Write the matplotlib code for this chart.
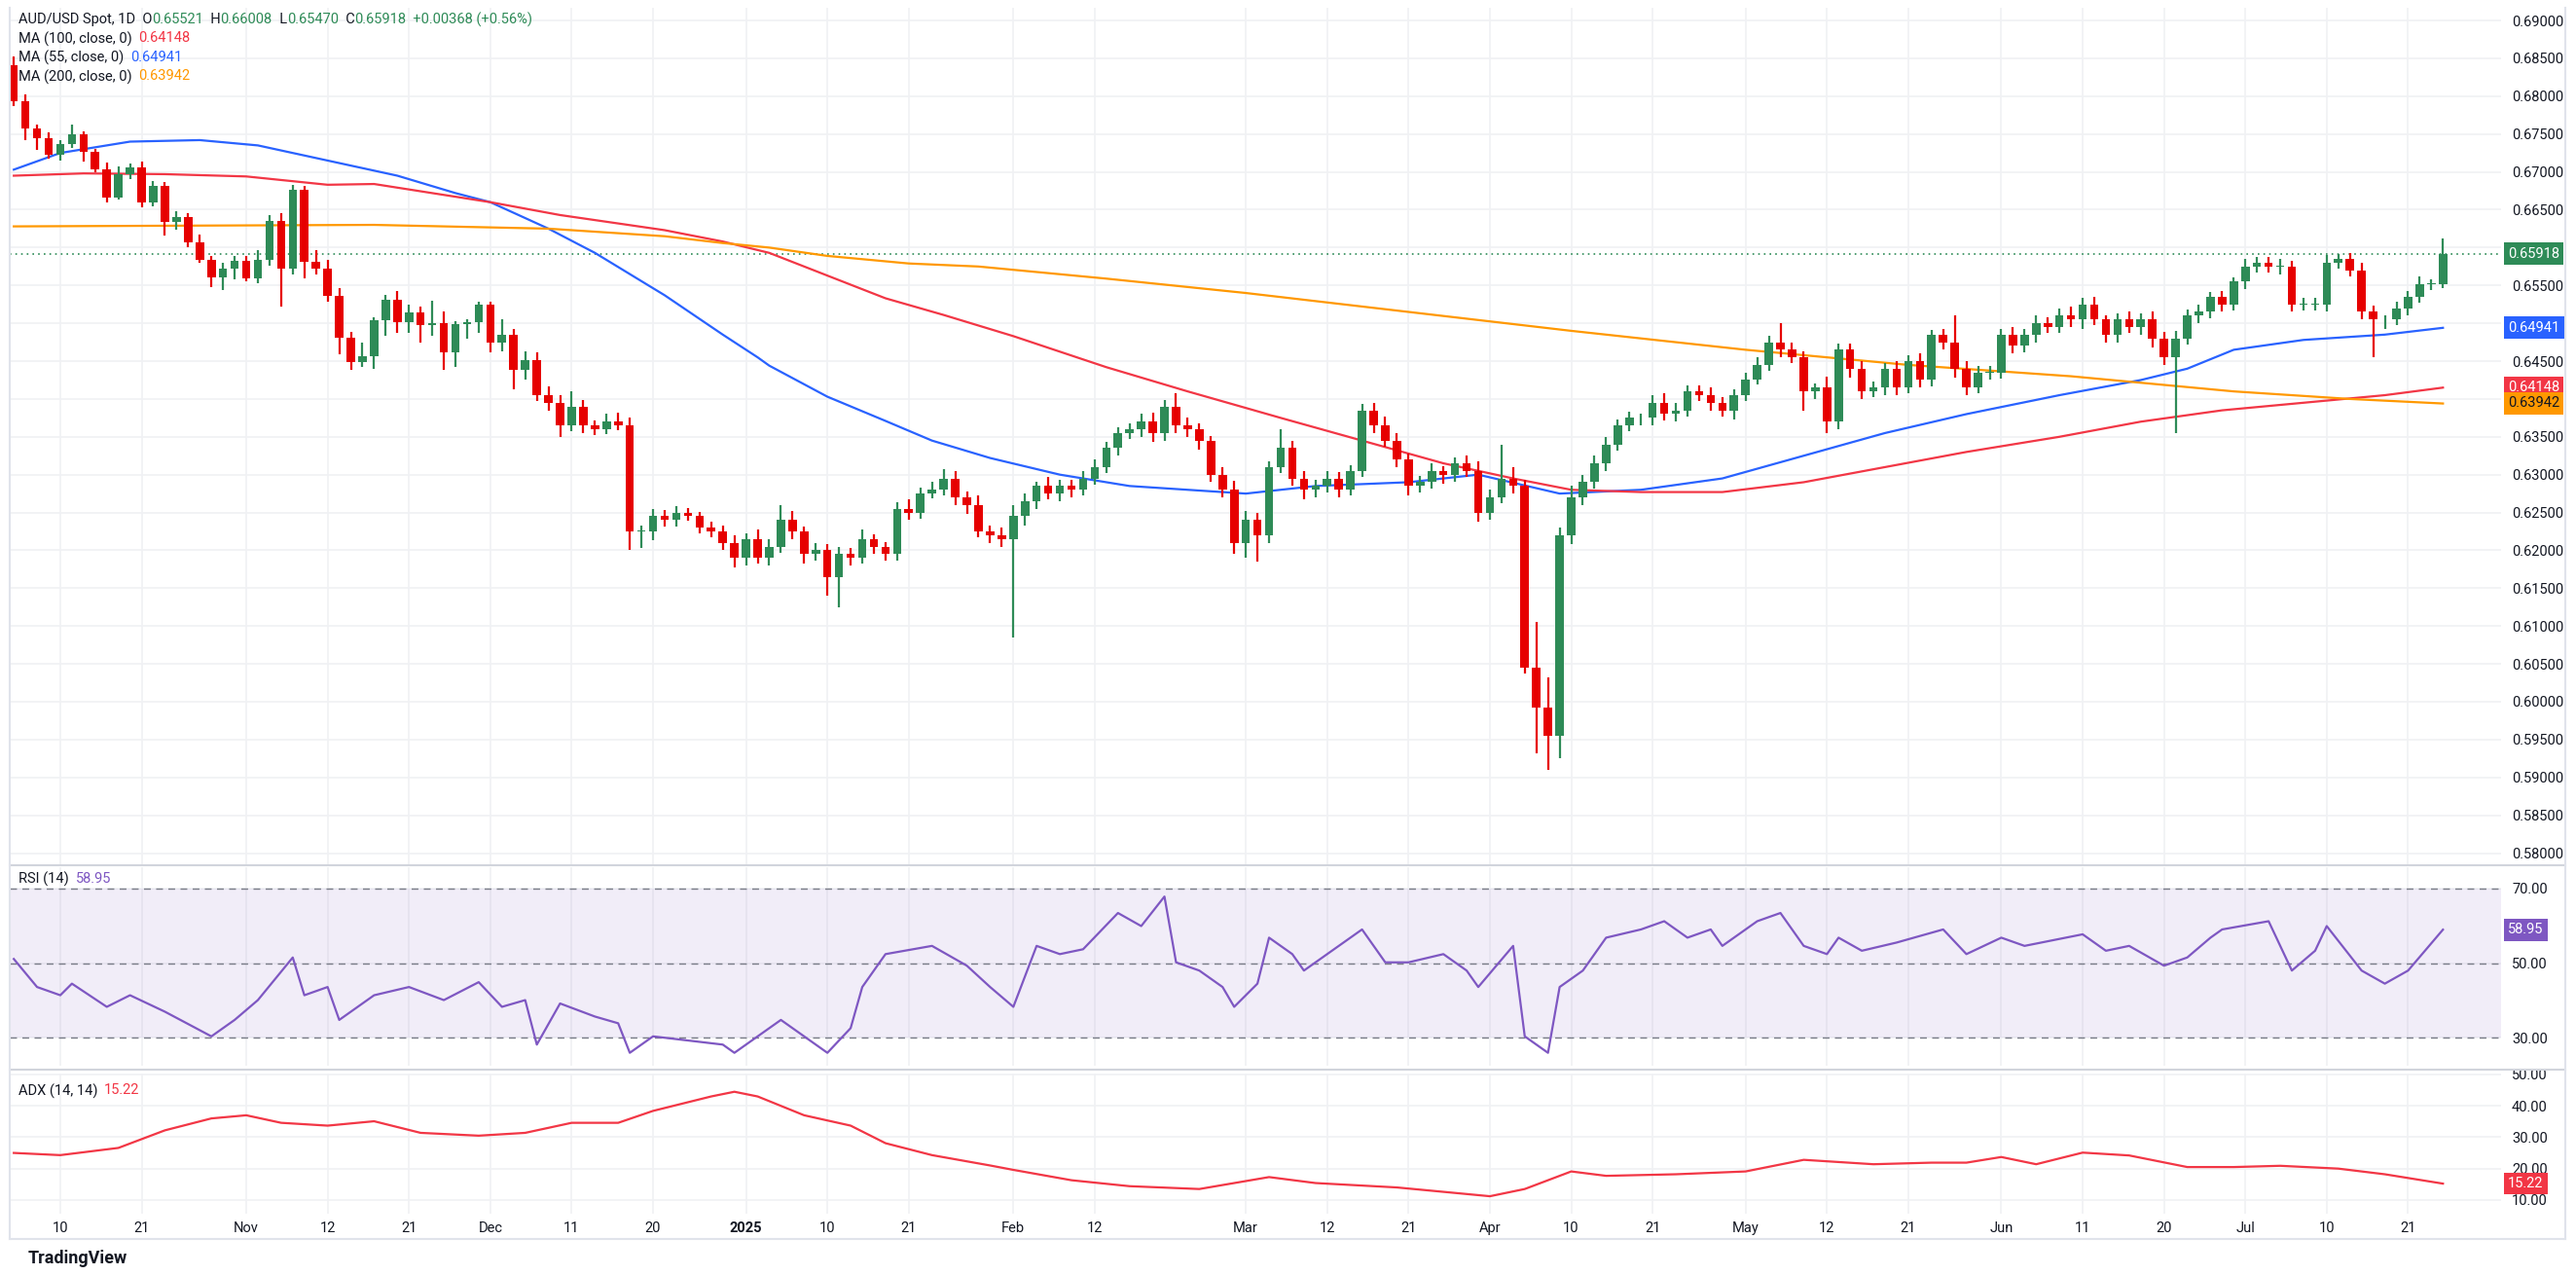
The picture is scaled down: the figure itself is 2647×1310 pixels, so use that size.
import numpy as np
import pandas as pd
import matplotlib
matplotlib.use("Agg")
import matplotlib.pyplot as plt

plt.rcParams["font.family"] = "Roboto"

# ---------------- data ----------------
first_open = 0.6841
closes = [
    0.6794,
    0.6757, 0.6744, 0.6723, 0.6737, 0.6750,
    0.6726, 0.6704, 0.6666, 0.6697, 0.6706,
    0.6659, 0.6682, 0.6634, 0.6640, 0.6607,
    0.6584, 0.6560, 0.6572, 0.6583, 0.6559,
    0.6584, 0.6635, 0.6572, 0.6677, 0.6581,
    0.6572, 0.6536, 0.6481, 0.6449, 0.6456,
    0.6504, 0.6531, 0.6501, 0.6514, 0.6498,
    0.6500, 0.6462, 0.6499, 0.6501, 0.6525,
    0.6475, 0.6485, 0.6438, 0.6451, 0.6405,
    0.6395, 0.6365, 0.6390, 0.6365, 0.6360,
    0.6370, 0.6365, 0.6225, 0.6225, 0.6245,
    0.6240, 0.6250, 0.6245, 0.6230, 0.6225,
    0.6210, 0.6190, 0.6215, 0.6190, 0.6205,
    0.6240, 0.6225, 0.6195, 0.6200, 0.6165,
    0.6195, 0.6190, 0.6215, 0.6205, 0.6195,
    0.6255, 0.6250, 0.6275, 0.6280, 0.6295,
    0.6270, 0.6260, 0.6225, 0.6220, 0.6215,
    0.6245, 0.6265, 0.6285, 0.6275, 0.6285,
    0.6280, 0.6295, 0.6310, 0.6335, 0.6355,
    0.6360, 0.6370, 0.6355, 0.6390, 0.6365,
    0.6360, 0.6345, 0.6300, 0.6280, 0.6210,
    0.6240, 0.6220, 0.6310, 0.6335, 0.6295,
    0.6280, 0.6285, 0.6295, 0.6280, 0.6305,
    0.6385, 0.6365, 0.6345, 0.6320, 0.6285,
    0.6290, 0.6305, 0.6300, 0.6315, 0.6305,
    0.6250, 0.6270, 0.6295, 0.6285, 0.6045,
    0.5992, 0.5955, 0.6220, 0.6270, 0.6290,
    0.6315, 0.6340, 0.6365, 0.6375, 0.6375,
    0.6395, 0.6380, 0.6385, 0.6410, 0.6405,
    0.6395, 0.6385, 0.6405, 0.6425, 0.6445,
    0.6475, 0.6465, 0.6455, 0.6410, 0.6415,
    0.6370, 0.6465, 0.6440, 0.6410, 0.6415,
    0.6440, 0.6415, 0.6450, 0.6425, 0.6485,
    0.6475, 0.6440, 0.6415, 0.6435, 0.6435,
    0.6485, 0.6470, 0.6485, 0.6500, 0.6495,
    0.6510, 0.6505, 0.6525, 0.6505, 0.6485,
    0.6505, 0.6495, 0.6505, 0.6480, 0.6455,
    0.6480, 0.6510, 0.6515, 0.6535, 0.6525,
    0.6555, 0.6575, 0.6580, 0.6575, 0.6575,
    0.6525, 0.6525, 0.6525, 0.6580, 0.6585,
    0.6570, 0.6515, 0.6505, 0.6505, 0.6520,
    0.6535, 0.6552, 0.6552, 0.65918,
]
# upper / lower wick lengths in pips
up_pips = [
    12,
    8, 5, 8, 5, 12,
    4, 5, 8, 10, 5,
    8, 6, 5, 8, 5,
    10, 5, 8, 6, 6,
    12, 8, 10, 6, 4,
    16, 12, 10, 8, 18,
    4, 6, 12, 10, 8,
    30, 15, 4, 4, 4,
    4, 20, 8, 12, 10,
    12, 10, 20, 8, 6,
    10, 12, 10, 8, 10,
    8, 8, 6, 6, 8,
    8, 10, 8, 12, 10,
    20, 12, 6, 10, 8,
    10, 8, 12, 6, 6,
    8, 12, 8, 10, 12,
    10, 8, 12, 8, 10,
    15, 10, 6, 12, 8,
    8, 10, 10, 8, 8,
    8, 10, 12, 8, 18,
    10, 8, 6, 10, 12,
    12, 10, 8, 25, 10,
    10, 8, 10, 8, 8,
    8, 10, 12, 10, 8,
    8, 10, 6, 8, 10,
    12, 10, 45, 15, 8,
    60, 40, 10, 15, 10,
    10, 10, 8, 8, 6,
    10, 12, 10, 8, 8,
    10, 8, 8, 10, 10,
    8, 25, 10, 8, 6,
    15, 8, 8, 10, 8,
    8, 10, 8, 10, 6,
    8, 35, 10, 8, 8,
    8, 10, 8, 10, 8,
    10, 12, 8, 10, 6,
    8, 10, 8, 10, 8,
    10, 8, 10, 6, 8,
    6, 10, 8, 8, 10,
    8, 8, 8, 10, 6,
    8, 10, 8, 6, 8,
    8, 10, 6, 20, 10,
    8, 10, 8, 8,
]
dn_pips = [
    7,
    15, 15, 6, 8, 5,
    12, 4, 6, 3, 6,
    6, 4, 18, 10, 6,
    4, 12, 16, 14, 4,
    6, 8, 50, 8, 22,
    8, 8, 22, 10, 7,
    16, 20, 14, 14, 24,
    15, 24, 20, 20, 14,
    14, 12, 25, 12, 8,
    10, 15, 8, 10, 8,
    6, 6, 25, 22, 12,
    8, 8, 6, 8, 8,
    10, 12, 10, 8, 10,
    8, 10, 12, 8, 25,
    40, 10, 8, 10, 8,
    8, 10, 8, 6, 8,
    10, 12, 8, 10, 10,
    130, 12, 10, 8, 10,
    10, 8, 8, 8, 10,
    8, 10, 12, 10, 10,
    10, 12, 10, 10, 15,
    20, 35, 10, 8, 10,
    12, 10, 8, 10, 8,
    8, 10, 8, 10, 12,
    8, 8, 12, 10, 8,
    12, 10, 8, 10, 8,
    60, 45, 30, 12, 10,
    8, 10, 8, 8, 10,
    10, 8, 10, 8, 8,
    10, 8, 12, 8, 6,
    8, 10, 8, 25, 10,
    15, 10, 12, 10, 8,
    10, 10, 8, 10, 8,
    10, 12, 10, 8, 10,
    8, 10, 8, 10, 8,
    8, 10, 12, 8, 10,
    10, 8, 10, 12, 10,
    100, 8, 10, 8, 10,
    8, 10, 8, 8, 10,
    10, 8, 8, 10, 8,
    8, 10, 50, 12, 8,
    10, 8, 8, 5,
]

ma55_idx = [0, 4, 10, 16, 21, 27, 33, 38, 41, 46, 50, 56, 61, 64, 65, 70, 75, 79, 84, 90, 96, 106, 112, 120, 126, 133, 140, 147, 154, 161, 168, 176, 183, 187, 191, 197, 204, 209]
ma55_val = [0.6703, 0.6725, 0.6740, 0.6742, 0.6735, 0.6715, 0.6695, 0.6672, 0.6660, 0.6625, 0.6593, 0.6537, 0.6485, 0.6455, 0.6444, 0.6403, 0.6371, 0.6345, 0.6322, 0.6300, 0.6285, 0.6275, 0.6285, 0.6290, 0.6300, 0.6275, 0.6280, 0.6295, 0.6325, 0.6355, 0.6380, 0.6405, 0.6425, 0.6440, 0.6465, 0.6478, 0.6485, 0.6494]
ma100_idx = [0, 6, 13, 20, 27, 31, 41, 47, 56, 61, 65, 70, 75, 80, 86, 94, 101, 109, 116, 123, 129, 134, 140, 147, 154, 161, 168, 176, 183, 190, 197, 204, 209]
ma100_val = [0.6695, 0.6698, 0.6697, 0.6694, 0.6683, 0.6684, 0.6660, 0.6643, 0.6623, 0.6608, 0.6593, 0.6563, 0.6533, 0.6511, 0.6483, 0.6442, 0.6410, 0.6375, 0.6345, 0.6315, 0.6295, 0.6280, 0.6277, 0.6277, 0.6290, 0.6310, 0.6330, 0.6350, 0.6370, 0.6385, 0.6395, 0.6405, 0.6415]
ma200_idx = [0, 15, 31, 46, 56, 61, 65, 70, 77, 83, 94, 106, 120, 134, 149, 163, 177, 191, 201, 209]
ma200_val = [0.6628, 0.6629, 0.6630, 0.6625, 0.6615, 0.6606, 0.6600, 0.6589, 0.6579, 0.6575, 0.6559, 0.6540, 0.6515, 0.6490, 0.6465, 0.6445, 0.6430, 0.6410, 0.6400, 0.6394]

rsi_idx = [0, 2, 4, 5, 8, 10, 13, 17, 19, 21, 24, 25, 27, 28, 31, 34, 37, 40, 42, 44, 45, 47, 50, 52, 53, 55, 61, 62, 65, 66, 69, 70, 72, 73, 75, 79, 82, 84, 86, 88, 90, 92, 95, 97, 99, 100, 102, 104, 105, 107, 108, 110, 111, 114, 116, 118, 120, 123, 125, 126, 129, 130, 131, 132, 133, 135, 137, 140, 142, 144, 146, 147, 150, 152, 154, 156, 157, 159, 162, 166, 168, 171, 173, 178, 180, 182, 185, 187, 189, 190, 194, 196, 198, 199, 202, 204, 206, 209]
rsi_val = [51.1, 43.6, 41.4, 44.5, 38.3, 41.4, 37.0, 30.4, 34.8, 40.1, 51.5, 41.4, 43.6, 34.8, 41.4, 43.6, 40.1, 44.9, 38.3, 40.1, 28.2, 39.2, 35.7, 33.9, 26.0, 30.4, 28.2, 26.0, 32.6, 34.8, 28.2, 26.0, 32.6, 43.6, 52.4, 54.6, 49.3, 43.6, 38.3, 54.6, 52.4, 53.7, 63.4, 59.9, 67.8, 50.2, 48.0, 43.6, 38.3, 44.5, 56.8, 52.4, 48.0, 54.6, 59.0, 50.2, 50.2, 52.4, 48.0, 43.6, 54.6, 30.4, 28.2, 26.0, 43.6, 48.0, 56.8, 59.0, 61.2, 56.8, 59.0, 54.6, 61.2, 63.4, 54.6, 52.4, 56.8, 53.3, 55.5, 59.0, 52.4, 56.8, 54.6, 57.7, 53.3, 54.6, 49.3, 51.5, 56.8, 59.0, 61.2, 48.0, 53.3, 59.9, 48.0, 44.5, 48.0, 58.95]

adx_idx = [0, 4, 9, 13, 17, 20, 23, 27, 31, 35, 40, 44, 48, 52, 55, 60, 62, 64, 68, 72, 75, 79, 84, 86, 91, 96, 102, 108, 112, 119, 123, 127, 130, 134, 137, 143, 149, 154, 160, 165, 168, 171, 174, 178, 182, 187, 191, 195, 200, 204, 209]
adx_val = [25.0, 24.3, 26.6, 32.2, 36.0, 37.0, 34.6, 33.7, 35.1, 31.4, 30.5, 31.4, 34.6, 34.6, 38.4, 43.0, 44.5, 43.0, 37.0, 33.7, 28.1, 24.3, 21.0, 19.6, 16.3, 14.4, 13.5, 17.3, 15.4, 14.0, 12.6, 11.2, 13.5, 19.1, 17.7, 18.2, 19.1, 22.8, 21.4, 21.9, 21.9, 23.7, 21.4, 25.1, 24.2, 20.5, 20.5, 20.9, 20.0, 18.2, 15.22]

price_ticks = [0.58 + 0.005 * i for i in range(23)]

# ---------------- figure ----------------
W, H = 2647, 1310
fig = plt.figure(figsize=(W / 100, H / 100), dpi=100)
fig.patch.set_facecolor("white")
L, R = 10 / W, 2570 / W
ax = fig.add_axes([L, 0.322, R - L, 0.672])
axr = fig.add_axes([L, 0.164, R - L, 0.156])
axa = fig.add_axes([L, 0.048, R - L, 0.110])

FS = 10.5
TXT = "#131722"
n = len(closes)
dates = pd.bdate_range("2024-10-04", periods=n)
opens = [first_open] + closes[:-1]
GREEN, RED = "#2e8b57", "#e60000"
for i in range(n):
    o, c = opens[i], closes[i]
    hi = max(o, c) + up_pips[i] * 1e-4
    lo = min(o, c) - dn_pips[i] * 1e-4
    col = GREEN if c >= o else RED
    ax.vlines(i, lo, hi, color=col, lw=1.6, zorder=3)
    ax.bar(i, max(abs(c - o), 0.00008), bottom=min(o, c), width=0.72, color=col, zorder=4)

ax.plot(ma55_idx, ma55_val, color="#2962ff", lw=1.6, zorder=2)
ax.plot(ma100_idx, ma100_val, color="#f23645", lw=1.6, zorder=2)
ax.plot(ma200_idx, ma200_val, color="#ff9800", lw=1.6, zorder=2)
ax.axhline(closes[-1], color=GREEN, ls=(0, (1, 2.5)), lw=1.2, zorder=1)

xmin, xmax = -0.35, 214.0
for a in (ax, axr, axa):
    a.set_xlim(xmin, xmax)
    a.set_facecolor("white")
    for s in a.spines.values():
        s.set_visible(False)
    a.tick_params(axis="both", length=0)
    a.yaxis.tick_right()
    a.grid(color="#f0f1f4", lw=1.2)
    a.set_axisbelow(True)

ax.set_ylim(0.5785, 0.6917)
ax.set_yticks(price_ticks)
ax.set_yticklabels([f"{t:.5f}" for t in price_ticks], fontsize=FS, color=TXT)
for a in (ax, axr, axa):
    a.tick_params(axis="y", pad=8)

tick_specs = [("2024-10-10", "10"), ("2024-10-21", "21"), ("2024-11-01", "Nov"), ("2024-11-12", "12"),
              ("2024-11-21", "21"), ("2024-12-02", "Dec"), ("2024-12-11", "11"), ("2024-12-20", "20"),
              ("2025-01-01", "2025"), ("2025-01-10", "10"), ("2025-01-21", "21"), ("2025-02-03", "Feb"),
              ("2025-02-12", "12"), ("2025-03-03", "Mar"), ("2025-03-12", "12"), ("2025-03-21", "21"),
              ("2025-04-01", "Apr"), ("2025-04-10", "10"), ("2025-04-21", "21"), ("2025-05-01", "May"),
              ("2025-05-12", "12"), ("2025-05-21", "21"), ("2025-06-02", "Jun"), ("2025-06-11", "11"),
              ("2025-06-20", "20"), ("2025-07-01", "Jul"), ("2025-07-10", "10"), ("2025-07-21", "21")]
tpos = [dates.get_loc(pd.Timestamp(d)) for d, _ in tick_specs]
for a in (ax, axr, axa):
    a.set_xticks(tpos)
    a.set_xticklabels([])
axa.set_xticklabels([t for _, t in tick_specs], fontsize=FS, color=TXT)
for lbl in axa.get_xticklabels():
    if lbl.get_text() == "2025":
        lbl.set_fontweight("bold")
axa.tick_params(axis="x", pad=6)

def tag(a, y, txt, bg, fc="white"):
    a.annotate(txt, xy=(1.0, y), xycoords=a.get_yaxis_transform(), xytext=(5, 0),
               textcoords="offset points", ha="left", va="center", fontsize=FS, color=fc,
               bbox=dict(boxstyle="square,pad=0.3", fc=bg, ec="none"), zorder=10, annotation_clip=False)

tag(ax, closes[-1], f"{closes[-1]:.5f}", GREEN)
tag(ax, 0.64941, "0.64941", "#2962ff")
tag(ax, 0.64148, "0.64148", "#f23645")
tag(ax, 0.63942, "0.63942", "#ff9800", TXT)

renderer = fig.canvas.get_renderer()
def segs(x, y, parts, fs=FS):
    for s, c in parts:
        t = fig.text(x, y, s, fontsize=fs, color=c, va="top", ha="left")
        x += t.get_window_extent(renderer=renderer).width / W

segs(0.007, 0.99, [("AUD/USD Spot, 1D  O", TXT), ("0.65521", GREEN), ("  H", TXT), ("0.66008", GREEN),
                   ("  L", TXT), ("0.65470", GREEN), ("  C", TXT), ("0.65918", GREEN),
                   ("  +0.00368 (+0.56%)", GREEN)])
for j, (lab, val, col) in enumerate([("MA (100, close, 0)  ", "0.64148", "#f23645"),
                                      ("MA (55, close, 0)  ", "0.64941", "#2962ff"),
                                      ("MA (200, close, 0)  ", "0.63942", "#ff9800")]):
    segs(0.007, 0.99 - 0.0148 * (j + 1), [(lab, TXT), (val, col)])

# RSI
axr.set_ylim(22.5, 75.7)
axr.axhspan(30, 70, color="#7e57c2", alpha=0.1, lw=0)
for lv in (30, 50, 70):
    axr.axhline(lv, color="#787b86", ls=(0, (5, 4)), lw=1)
axr.plot(rsi_idx, rsi_val, color="#7e57c2", lw=1.6)
axr.set_yticks([30, 50, 70])
axr.set_yticklabels(["30.00", "50.00", "70.00"], fontsize=FS, color=TXT)
tag(axr, rsi_val[-1], f"{rsi_val[-1]:.2f}", "#7e57c2")
segs(0.007, 0.316, [("RSI (14)  ", TXT), ("58.95", "#7e57c2")])

# ADX
axa.set_ylim(5.6, 50.3)
axa.plot(adx_idx, adx_val, color="#f23645", lw=1.6)
axa.set_yticks([10, 20, 30, 40, 50])
axa.set_yticklabels(["10.00", "20.00", "30.00", "40.00", "50.00"], fontsize=FS, color=TXT)
tag(axa, adx_val[-1], f"{adx_val[-1]:.2f}", "#f23645")
segs(0.007, 0.150, [("ADX (14, 14)  ", TXT), ("15.22", "#f23645")])

# separators / frame
for yy in (0.321, 0.161):
    fig.add_artist(plt.Line2D([L, 0.996], [yy, yy], color="#d1d4dc", lw=1.5))
fig.add_artist(plt.Line2D([L, 0.996], [0.028, 0.028], color="#e0e3eb", lw=1.5))
fig.add_artist(plt.Line2D([L, L], [0.028, 0.994], color="#e0e3eb", lw=1.5))
fig.add_artist(plt.Line2D([0.996, 0.996], [0.028, 0.994], color="#e0e3eb", lw=1.5))
fig.text(0.011, 0.006, "TradingView", fontsize=13, fontweight="bold", color=TXT, va="bottom")

fig.savefig("out.png", dpi=100, facecolor="white")
